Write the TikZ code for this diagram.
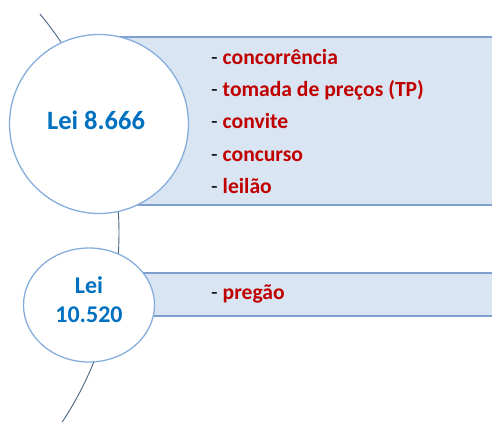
\documentclass[tikz,border=0pt]{standalone}
\usepackage{fontspec}
\setmainfont{Carlito}
\usetikzlibrary{shapes.geometric}
\definecolor{leiblue}{HTML}{0070C0}
\definecolor{itemred}{HTML}{C00000}
\definecolor{boxfill}{HTML}{DAE5F3}
\definecolor{boxline}{HTML}{7F9FCF}
\definecolor{ringline}{HTML}{86AEDC}
\definecolor{arcline}{HTML}{4A6482}
\tikzset{
  leicircle/.style={circle, draw=ringline, line width=1.3pt, fill=white, text=leiblue,
    font=\fontsize{26.5}{29}\selectfont\bfseries, align=center, inner sep=0pt},
  leiellipse/.style={ellipse, draw=ringline, line width=1.3pt, fill=white, text=leiblue,
    font=\fontsize{24}{29}\selectfont\bfseries, align=center, inner sep=0pt},
  listbox/.style={draw=boxline, line width=1.3pt, fill=boxfill},
  listtext/.style={anchor=north west, align=left, inner sep=0pt,
    font=\fontsize{21.6}{32.3}\selectfont\bfseries},
}
\newcommand{\itm}[1]{{\mdseries\color{black}-} \textcolor{itemred}{#1}}
\begin{document}
\begin{tikzpicture}[x=1pt,y=1pt]
\useasboundingbox (0,0) rectangle (492,421);
% timeline arc
\draw[arcline, line width=0.9pt] (-224,188) ++(39.7:343pt) arc[start angle=39.7, end angle=-33.6, radius=343pt];
% boxes
\draw[listbox] (120,384) rectangle (496,216);
\draw[listbox] (140,148) rectangle (496,105);
% circles
\node[leicircle, minimum size=179pt] (lei8666) at (99,297) {};
\node[leiellipse, minimum width=131pt, minimum height=114pt] (lei10520) at (89,116) {};
\node[text=leiblue, font=\fontsize{26.5}{29}\selectfont\bfseries, inner sep=0pt] (lei8666text) at (96,301) {Lei 8.666};
\node[text=leiblue, font=\fontsize{24}{29}\selectfont\bfseries, align=center, inner sep=0pt] (lei10520text) at (89,121) {Lei\\10.520};
% lists
\node[listtext] (list8666) at (211,372) {\itm{concorrência}\\\itm{tomada de preços (TP)}\\\itm{convite}\\\itm{concurso}\\\itm{leilão}};
\node[listtext, anchor=west] (list10520) at (211,127) {\itm{pregão}};
\end{tikzpicture}
\end{document}
